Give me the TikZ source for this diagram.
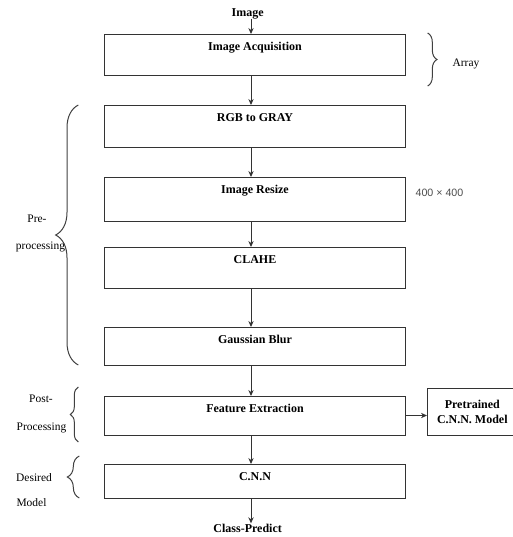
\documentclass[tikz,border=0pt]{standalone}
\usepackage{fontspec}
\setmainfont{Liberation Serif}
\setsansfont{Liberation Sans}
\usetikzlibrary{arrows.meta}
\usetikzlibrary{positioning}
\usetikzlibrary{decorations.pathreplacing}

\begin{document}
\begin{tikzpicture}[->,>={Stealth[length=4.5pt,width=4pt]},x=0.75pt,y=-0.75pt,line width=0.75pt,
  stage/.style={draw=black!80,rectangle,minimum width=226pt,inner sep=0pt,outer sep=0pt,
    text height=12.5pt,text depth=#1,font=\bfseries\fontsize{9}{10}\selectfont},
  model/.style={draw=black!80,align=center,minimum width=68pt,minimum height=35.25pt,
    inner sep=1pt,outer sep=0pt,font=\bfseries\fontsize{9}{11.25}\selectfont},
  io/.style={inner sep=0pt,outer sep=0pt,text height=7pt,text depth=2pt,font=\bfseries\fontsize{9}{10}\selectfont},
  side/.style={inner sep=0pt,anchor=base,font=\fontsize{8.6}{10}\selectfont},
  brace/.style={-,draw=black!75,decorate,decoration={brace,amplitude=#1}}]

  \useasboundingbox (0,0) rectangle (512,537);

  \node[stage=18.25pt] (acq) at (255,54.5) {Image Acquisition};
  \node[stage=19pt] (gray) [below=22.5pt of acq] {RGB to GRAY};
  \node[stage=20.5pt] (resize) [below=22.5pt of gray] {Image Resize};
  \node[stage=18.25pt] (clahe) [below=19.5pt of resize] {CLAHE};
  \node[stage=16pt] (blur) [below=29.25pt of clahe] {Gaussian Blur};
  \node[stage=16.75pt] (feat) [below=23.25pt of blur] {Feature Extraction};
  \node[stage=13pt] (cnn) [below=21.75pt of feat] {C.N.N};

  \node[io] (img) [above=11.5pt of acq,xshift=-5.5pt] {Image};
  \node[io] (cls) [below=19pt of cnn,xshift=-5.5pt] {Class-Predict};
  \node[model] (pre) [right=16pt of feat.south east,anchor=south west] {Pretrained\\C.N.N. Model};
  \coordinate (spine) at (251,0);

  % side notes
  \node[side] (arr) at (466,66.7) {Array};
  \node[side,font=\sffamily\fontsize{8}{10}\selectfont,text=black!70] (dim) at (439.5,196.7) {400 × 400};
  \node[side] (pre1) at (37,222.7) {Pre-};
  \node[side] (pre2) at (40.5,249) {processing};
  \node[side] (post1) at (41,402.7) {Post-};
  \node[side] (post2) at (41.5,430) {Processing};
  \node[side] (des1) at (34,481.7) {Desired};
  \node[side] (des2) at (31.5,506.7) {Model};

  \path[every edge/.append style={draw=black!80}]
    (img.south -| spine) edge (acq.north -| spine)
    (acq.south -| spine) edge (gray.north -| spine)
    (gray.south -| spine) edge (resize.north -| spine)
    (resize.south -| spine) edge (clahe.north -| spine)
    (clahe.south -| spine) edge (blur.north -| spine)
    (blur.south -| spine) edge (feat.north -| spine)
    (feat.south -| spine) edge (cnn.north -| spine)
    (cnn.south -| spine) edge (cls.north -| spine);
  \draw[draw=black!80] (feat.east) -- (feat.east -| pre.west);

  \draw[brace=7pt] ([xshift=16.5pt,yshift=0.75pt]acq.north east) -- ([xshift=16.5pt,yshift=-8.25pt]acq.south east);
  \draw[brace=17pt] ([xshift=-19.5pt]blur.south west) -- ([xshift=-19.5pt]gray.north west);
  \draw[brace=6pt] ([xshift=-19.5pt,yshift=-5.25pt]feat.south west) -- ([xshift=-19.5pt,yshift=6.75pt]feat.north west);
  \draw[brace=9pt] ([xshift=-18.75pt]cnn.south west) -- ([xshift=-18.75pt,yshift=6pt]cnn.north west);
\end{tikzpicture}
\end{document}
